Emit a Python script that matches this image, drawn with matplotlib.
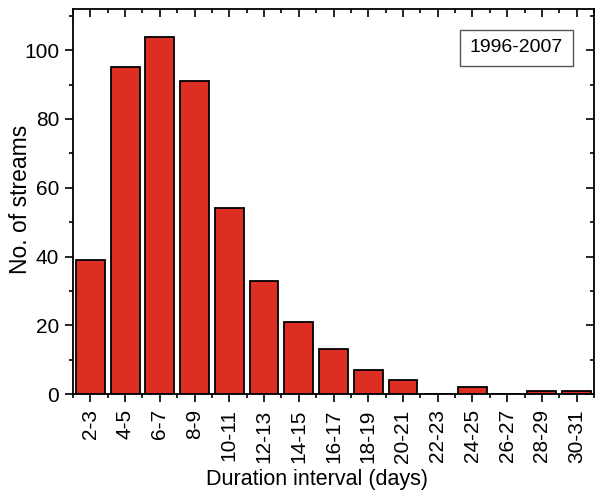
import matplotlib
matplotlib.use("Agg")
import matplotlib.pyplot as plt
from matplotlib.ticker import MultipleLocator

plt.rcParams['font.family'] = ['Liberation Sans', 'DejaVu Sans']

intervals = ["2-3", "4-5", "6-7", "8-9", "10-11", "12-13", "14-15", "16-17",
             "18-19", "20-21", "22-23", "24-25", "26-27", "28-29", "30-31"]
streams = [39, 95, 104, 91, 54, 33, 21, 13, 7, 4, 0, 2, 0, 1, 1]
period_label = "1996-2007"

W, H = 596, 492
fig = plt.figure(figsize=(W / 100, H / 100), dpi=100)
ax = fig.add_axes([73 / W, 1 - 394 / H, 521 / W, 385 / H])

x = range(len(intervals))
ax.bar(x, streams, width=0.83, color="#DC2E22", edgecolor="black", linewidth=1.3)

ax.set_xlim(-0.5, len(intervals) - 0.5)
ax.set_ylim(0, 112)
ax.set_xticks(list(x))
ax.set_xticklabels(intervals, rotation=90, fontsize=15)
ax.xaxis.set_minor_locator(MultipleLocator(1, offset=0.5))
ax.yaxis.set_major_locator(MultipleLocator(20))
ax.yaxis.set_minor_locator(MultipleLocator(10))
ax.tick_params(axis="y", labelsize=15, pad=4)
ax.tick_params(axis="x", pad=5)

ax.tick_params(which="major", length=6, width=1.2)
ax.tick_params(which="minor", length=3, width=1.2)
ax.tick_params(axis="both", which="both", direction="out", top=False, right=False)

# mirrored inward ticks on top and right
ax.tick_params(axis="x", which="both", top=True, labeltop=False)
ax.tick_params(axis="y", which="both", right=True, labelright=False)
for t in ax.xaxis.get_major_ticks() + ax.xaxis.get_minor_ticks():
    t.tick2line.set_marker(matplotlib.markers.TICKDOWN)
for t in ax.yaxis.get_major_ticks() + ax.yaxis.get_minor_ticks():
    t.tick2line.set_marker(matplotlib.markers.TICKLEFT)

for s in ax.spines.values():
    s.set_linewidth(1.3)

# axis titles placed in figure pixels
fig.text(317 / W, 1 - 485 / H, "Duration interval (days)", fontsize=15.5,
         ha="center", va="baseline")
fig.text(21 / W, 1 - 199 / H, "No. of streams", fontsize=16.5,
         rotation=90, ha="center", va="center")

ax.text((516.5 - 73) / 521, (394 - 48) / 385, period_label, transform=ax.transAxes,
        fontsize=14, ha="center", va="center",
        bbox=dict(boxstyle="square,pad=0.5", facecolor="white",
                  edgecolor="#555555", linewidth=1.0))

fig.savefig("out.png", dpi=100)
